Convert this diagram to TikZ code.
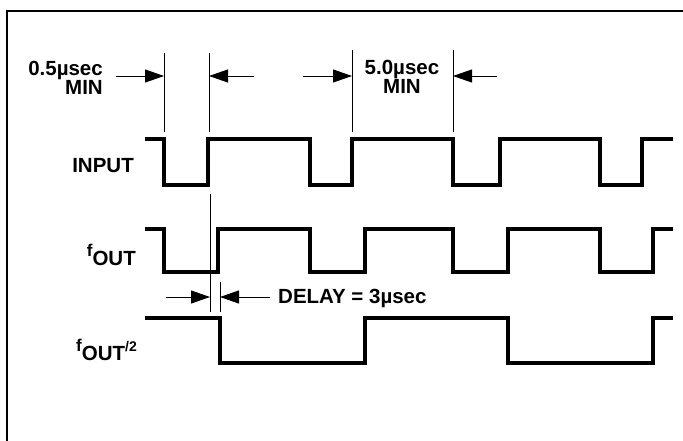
\documentclass[tikz,border=0pt]{standalone}
\usepackage{fontspec}
\setmainfont{Liberation Sans}
\usepackage{tikz}
\usetikzlibrary{arrows.meta}
\tikzset{
  wave/.style   ={line width=3.6pt, line join=miter, black},
  frame/.style  ={line width=1.2pt, black},
  dimline/.style={line width=0.9pt, black},
  dimarr/.style ={-{Triangle[length=19pt,width=13pt]}, line width=0.9pt, black},
  lbl/.style    ={font=\bfseries\fontsize{20.5pt}{19pt}\selectfont, inner sep=0pt, align=center},
}
\newcommand{\fsub}{{\fontsize{17pt}{17pt}\selectfont f}\raisebox{-9pt}{OUT}}

\begin{document}
\begin{tikzpicture}[x=1pt,y=-1pt]
\useasboundingbox (0,0) rectangle (683,441);

% frame
\draw[frame] (7,441) -- (7,11) -- (683,11);

% ---- waveforms ----
\draw[wave] (145,139) -| (164,185) -| (208,139) -| (310,185) -| (352,139)
  -| (453,185) -| (500,139) -| (600,185) -| (642,139) -- (673,139);
\draw[wave] (145,229) -| (164,272) -| (218,229) -| (310,272) -| (365,229)
  -| (453,272) -| (508,229) -| (600,272) -| (653,229) -- (673,229);
\draw[wave] (145,318) -| (220,363) -| (365,318) -| (508,363) -| (653,318) -- (673,318);

% ---- labels ----
\node[lbl, anchor=east] (inp) at (134,166) {INPUT};
\node[lbl, anchor=base east] (fo) at (136,256) {\fsub};
\node[lbl, anchor=base east] (fo2) at (137,351) {\fsub{\fontsize{14pt}{14pt}\selectfont/2}};

% ---- 0.5usec min ----
\node[lbl, align=right, anchor=east] (pw) at (103,78) {0.5µsec\\MIN};
\coordinate (pwa) at (164,76); \coordinate (pwb) at (209,76);
\coordinate (pwl) at (116,76); \coordinate (pwr) at (254,76);
\draw[dimline] (164,53) -- (164,132);
\draw[dimline] (209,53) -- (209,132);
\draw[dimarr] (pwl) -- (pwa);
\draw[dimarr] (pwr) -- (pwb);

% ---- 5.0usec min ----
\node[lbl] (per) at (402,77) {5.0µsec\\MIN};
\coordinate (pea) at (352,76); \coordinate (peb) at (453,76);
\coordinate (pel) at (303,76); \coordinate (per2) at (497,76);
\draw[dimline] (352,50) -- (352,132);
\draw[dimline] (453,50) -- (453,132);
\draw[dimarr] (pel) -- (pea);
\draw[dimarr] (per2) -- (peb);

% ---- delay ----
\node[lbl, anchor=west] (dly) at (278,298) {DELAY = 3µsec};
\coordinate (dla) at (210,297); \coordinate (dlb) at (220,297);
\coordinate (dll) at (166,297); \coordinate (dlr) at (270,297);
\draw[dimline] (210,194) -- (210,312);
\draw[dimline] (220,282) -- (220,312);
\draw[dimarr] (dll) -- (dla);
\draw[dimarr] (dlr) -- (dlb);
\end{tikzpicture}
\end{document}
